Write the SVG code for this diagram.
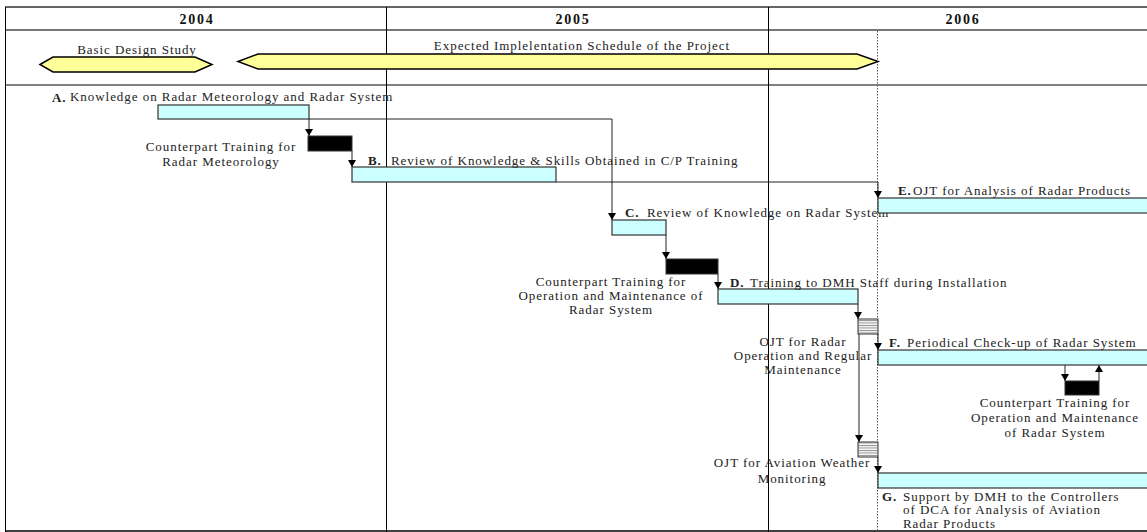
<svg xmlns="http://www.w3.org/2000/svg" width="1147" height="532" viewBox="0 0 1147 532">
<style>
text{font-family:"Liberation Serif","Times New Roman",serif;font-size:13px;letter-spacing:0.95px;fill:#222}
.yr{font-size:14px;font-weight:bold;letter-spacing:1.8px;fill:#111}
.b{font-weight:bold}
.m{text-anchor:middle}
.bar{fill:#ccffff;stroke:#333;stroke-width:1.2}
.blk{fill:#000;stroke:#333;stroke-width:1}
.hat{fill:url(#hatch);stroke:#333;stroke-width:1}
.hex{fill:#ffff99;stroke:#000;stroke-width:1.5}
.con{fill:none;stroke:#222;stroke-width:1}
</style>
<defs>
<marker id="ar" markerWidth="8" markerHeight="8" refX="7" refY="4" orient="auto" markerUnits="userSpaceOnUse" viewBox="0 0 8 8">
<path d="M0,0 L7,4 L0,8 Z" fill="#000"/>
</marker>
<pattern id="hatch" width="4" height="2.5" patternUnits="userSpaceOnUse">
<rect width="4" height="2.5" fill="#f4f4f4"/>
<line x1="0" y1="0.5" x2="4" y2="0.5" stroke="#777" stroke-width="0.8"/>
</pattern>
</defs>
<rect width="1147" height="532" fill="#fff"/>
<g id="grid">
<line x1="5" y1="7" x2="1147" y2="7" stroke="#666" stroke-width="2"/>
<line x1="5" y1="30" x2="1147" y2="30" stroke="#777" stroke-width="2"/>
<line x1="5" y1="85" x2="1147" y2="85" stroke="#000" stroke-width="1"/>
<line x1="5" y1="531" x2="1147" y2="531" stroke="#000" stroke-width="1.5"/>
<line x1="5.5" y1="7" x2="5.5" y2="532" stroke="#000" stroke-width="1"/>
<line x1="386.5" y1="7" x2="386.5" y2="532" stroke="#000" stroke-width="1"/>
<line x1="768.5" y1="7" x2="768.5" y2="532" stroke="#000" stroke-width="1"/>
<line x1="877.5" y1="31" x2="877.5" y2="532" stroke="#555" stroke-width="1" stroke-dasharray="1.5,1.5"/>
<text class="yr m" x="197" y="24">2004</text>
<text class="yr m" x="573" y="24">2005</text>
<text class="yr m" x="963" y="24">2006</text>
</g>
<g id="basic-design">
<polygon class="hex" points="40,64.5 53,57 195,57 212,64.5 195,72 53,72"/>
<text class="m" x="137" y="54">Basic Design Study</text>
</g>
<g id="implementation">
<polygon class="hex" points="238,61.5 258,54 857,54 878,61.5 857,69 258,69"/>
<text class="m" x="582" y="50">Expected Implelentation Schedule of the Project</text>
</g>
<g id="connectors">
<path class="con" d="M309,119 V136" marker-end="url(#ar)"/>
<path class="con" d="M309,119 H612 V220" marker-end="url(#ar)"/>
<path class="con" d="M352,151 V167" marker-end="url(#ar)"/>
<path class="con" d="M556,182 H878 V198" marker-end="url(#ar)"/>
<path class="con" d="M666,235 V259" marker-end="url(#ar)"/>
<path class="con" d="M718,274 V289" marker-end="url(#ar)"/>
<path class="con" d="M858,304 V319" marker-end="url(#ar)"/>
<path class="con" d="M878,334 V350" marker-end="url(#ar)"/>
<path class="con" d="M859,334 V442" marker-end="url(#ar)"/>
<path class="con" d="M878,457 V473" marker-end="url(#ar)"/>
<path class="con" d="M1065,365 V381" marker-end="url(#ar)"/>
<path class="con" d="M1099,381 V365" marker-end="url(#ar)"/>
</g>
<g id="task-a">
<rect class="bar" x="158" y="105" width="151" height="14"/>
<text class="b" x="52" y="102" font-size="11">A.</text>
<text x="70" y="101">Knowledge on Radar Meteorology and Radar System</text>
</g>
<g id="cp-radar-met">
<rect class="blk" x="308" y="136" width="44" height="15"/>
<text class="m" x="221" y="151">Counterpart Training for</text>
<text class="m" x="221" y="166">Radar Meteorology</text>
</g>
<g id="task-b">
<rect class="bar" x="352" y="167" width="204" height="15"/>
<text class="b" x="368" y="165">B.</text>
<text x="391" y="165">Review of Knowledge &amp; Skills Obtained in C/P Training</text>
</g>
<g id="task-c">
<rect class="bar" x="612" y="220" width="54" height="15"/>
<text class="b" x="625" y="217">C.</text>
<text x="647" y="217">Review of Knowledge on Radar System</text>
</g>
<g id="cp-om">
<rect class="blk" x="666" y="259" width="52" height="15"/>
<text class="m" x="611" y="286">Counterpart Training for</text>
<text class="m" x="611" y="300">Operation and Maintenance of</text>
<text class="m" x="611" y="314">Radar System</text>
</g>
<g id="task-d">
<rect class="bar" x="718" y="289" width="140" height="15"/>
<text class="b" x="730" y="287">D.</text>
<text x="750" y="287">Training to DMH Staff during Installation</text>
</g>
<g id="task-e">
<rect class="bar" x="878" y="198" width="272" height="15"/>
<text class="b" x="898" y="195">E.</text>
<text x="913" y="195">OJT for Analysis of Radar Products</text>
</g>
<g id="ojt-radar">
<rect class="hat" x="858" y="319" width="20" height="15"/>
<text class="m" x="803" y="346">OJT for Radar</text>
<text class="m" x="803" y="360">Operation and Regular</text>
<text class="m" x="803" y="374">Maintenance</text>
</g>
<g id="task-f">
<rect class="bar" x="878" y="350" width="272" height="15"/>
<text class="b" x="889" y="347">F.</text>
<text x="907" y="347">Periodical Check-up of Radar System</text>
</g>
<g id="cp-om2">
<rect class="blk" x="1065" y="381" width="34" height="14"/>
<text class="m" x="1055" y="407">Counterpart Training for</text>
<text class="m" x="1055" y="422">Operation and Maintenance</text>
<text class="m" x="1055" y="437">of Radar System</text>
</g>
<g id="ojt-aviation">
<rect class="hat" x="858" y="442" width="20" height="15"/>
<text class="m" x="792" y="467">OJT for Aviation Weather</text>
<text class="m" x="792" y="483">Monitoring</text>
</g>
<g id="task-g">
<rect class="bar" x="878" y="473" width="272" height="15"/>
<text class="b" x="882" y="501">G.</text>
<text x="903" y="501">Support by DMH to the Controllers</text>
<text x="903" y="514">of DCA for Analysis of Aviation</text>
<text x="903" y="528">Radar Products</text>
</g>
</svg>
